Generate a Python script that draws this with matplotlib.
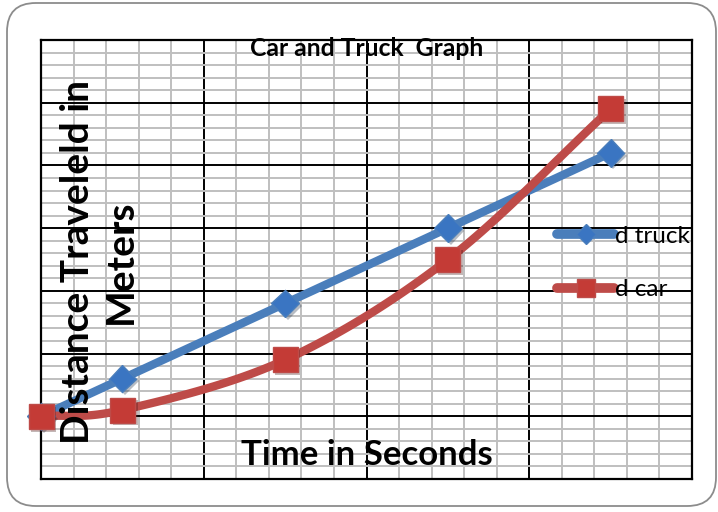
import numpy as np
import matplotlib
matplotlib.use("Agg")
import matplotlib.pyplot as plt
from matplotlib.patches import FancyBboxPatch
from matplotlib.ticker import MultipleLocator, NullFormatter
import matplotlib.patheffects as pe

# ---- data ----
time_s = [0, 1, 3, 5, 7]
d_truck = [10, 16, 28, 40, 52]
d_car = [10, 11, 19, 35, 59]
series_names = ["d truck", "d car"]
title = "Car and Truck  Graph"
xlabel = "Time in Seconds"
ylabel = "Distance Traveleld in\nMeters"

FONT = "Lato"

def smooth(x, y, n=30):
    x = np.asarray(x, float); y = np.asarray(y, float)
    px = np.concatenate([[2*x[0]-x[1]], x, [2*x[-1]-x[-2]]])
    py = np.concatenate([[2*y[0]-y[1]], y, [2*y[-1]-y[-2]]])
    xs, ys = [], []
    t = np.linspace(0, 1, n)
    for i in range(1, len(px)-2):
        p0, p1, p2, p3 = [np.array([px[j], py[j]]) for j in (i-1, i, i+1, i+2)]
        c1 = p1 + (p2 - p0) / 6.0
        c2 = p2 - (p3 - p1) / 6.0
        b = ((1-t)**3)[:, None]*p1 + (3*(1-t)**2*t)[:, None]*c1 + (3*(1-t)*t**2)[:, None]*c2 + (t**3)[:, None]*p2
        xs.append(b[:, 0]); ys.append(b[:, 1])
    return np.concatenate(xs), np.concatenate(ys)

fig = plt.figure(figsize=(7.18, 5.12), dpi=100)
fig.patch.set_facecolor("white")

# outer rounded border
border = FancyBboxPatch((7/718, 6/512), (716-7)/718, (509-6)/512,
                        boxstyle="round,pad=0,rounding_size=0.04",
                        transform=fig.transFigure, fill=False,
                        edgecolor="#8c8c8c", linewidth=1.3,
                        mutation_aspect=718/512)
fig.patches.append(border)

ax = fig.add_axes([41/718, 1-479/512, (692-41)/718, (479-40)/512])
ax.set_xlim(0, 8)
ax.set_ylim(0, 70)
ax.xaxis.set_major_locator(MultipleLocator(2))
ax.xaxis.set_minor_locator(MultipleLocator(0.4))
ax.yaxis.set_major_locator(MultipleLocator(10))
ax.yaxis.set_minor_locator(MultipleLocator(2))
ax.xaxis.set_major_formatter(NullFormatter())
ax.yaxis.set_major_formatter(NullFormatter())
ax.tick_params(which="both", length=0)
ax.grid(which="minor", color="#bfbfbf", linewidth=1.4, zorder=0)
ax.grid(which="major", color="black", linewidth=1.4, zorder=0.5)
ax.set_axisbelow(True)
for s in ax.spines.values():
    s.set_color("black"); s.set_linewidth(1.6)

mshadow = [pe.SimplePatchShadow(offset=(2, -2), alpha=0.3), pe.Normal()]

colors_line = ["#4a7ebb", "#be4b48"]
colors_mark = ["#3a75c2", "#c43b36"]
markers = ["D", "s"]
msizes = [14, 18]
handles = []
for yv, name, cl, cm, mk, ms in zip([d_truck, d_car], series_names, colors_line, colors_mark, markers, msizes):
    sx, sy = smooth(time_s, yv)
    ax.plot(sx, sy, color=cl, linewidth=6, solid_capstyle="round", zorder=3,
            clip_on=False)
    ax.plot(time_s, yv, linestyle="none", marker=mk, markersize=ms,
            markerfacecolor=cm, markeredgecolor=cl, markeredgewidth=1.0,
            zorder=4, clip_on=False, path_effects=mshadow)
    h, = ax.plot([], [], color=cl, linewidth=7, solid_capstyle="round",
                 marker=mk, markersize=ms*0.7, markerfacecolor=cm,
                 markeredgecolor=cl, label=name)
    handles.append(h)

leg = ax.legend(handles=handles, loc="center left", bbox_to_anchor=(516/651, 0.492),
                frameon=False, handlelength=2.35, handletextpad=0.05,
                labelspacing=1.32, prop={"family": FONT, "size": 17.5},
                borderaxespad=0, borderpad=0)

ax.text(0.5, 0.981, title, transform=ax.transAxes, ha="center", va="center",
        fontsize=17.8, fontweight="bold", family=FONT, zorder=6)
ax.text(0.5, 0.055, xlabel, transform=ax.transAxes, ha="center", va="center",
        fontsize=25, fontweight="bold", family=FONT, zorder=6)
ax.text((99-41)/651, (479-262)/439, ylabel, transform=ax.transAxes, ha="center",
        va="center", rotation=90, fontsize=28, fontweight="bold", family=FONT,
        linespacing=1.3, multialignment="center", zorder=6)

fig.savefig("out.png", dpi=100)
